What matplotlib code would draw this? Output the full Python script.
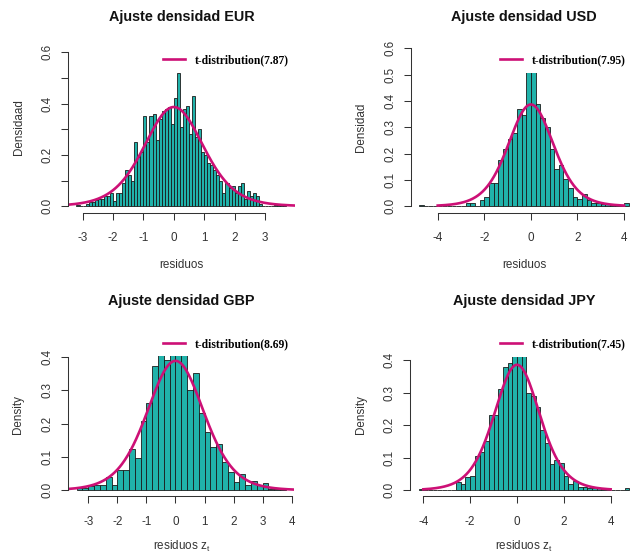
import math
import numpy as np
import matplotlib
matplotlib.use("Agg")
import matplotlib.pyplot as plt
from matplotlib.lines import Line2D
from matplotlib.patches import Rectangle

plt.rcParams["font.family"] = ["Liberation Sans", "DejaVu Sans"]
plt.rcParams["mathtext.default"] = "regular"

W, H = 631, 553

# histogram densities: first break, bin width, density of each bin
eur_start, eur_width = -3.2, 0.1
eur_density = [0.005, 0.0, 0.0, 0.01, 0.015, 0.015, 0.025, 0.03, 0.03, 0.04,
               0.04, 0.05, 0.02, 0.05, 0.05, 0.09, 0.14, 0.12, 0.10, 0.25,
               0.19, 0.21, 0.35, 0.25, 0.35, 0.36, 0.26, 0.34, 0.37, 0.38,
               0.385, 0.32, 0.42, 0.52, 0.31, 0.38, 0.39, 0.28, 0.43, 0.27,
               0.30, 0.21, 0.20, 0.17, 0.16, 0.14, 0.12, 0.10, 0.05, 0.09,
               0.07, 0.08, 0.05, 0.08, 0.09, 0.03, 0.06, 0.04, 0.05, 0.04,
               0.01, 0.0, 0.0, 0.0, 0.0, 0.005, 0.005, 0.005, 0.01]

usd_start, usd_width = -4.8, 0.2
usd_density = [0.003, 0.0, 0.0, 0.002, 0.0, 0.0, 0.0, 0.0, 0.0, 0.0,
               0.011, 0.011, 0.0, 0.024, 0.034, 0.087, 0.09, 0.174, 0.216, 0.257,
               0.277, 0.369, 0.346, 0.57, 0.55, 0.39, 0.337, 0.303, 0.216, 0.14,
               0.156, 0.105, 0.071, 0.034, 0.026, 0.045, 0.023, 0.014, 0.011, 0.01,
               0.01, 0.005, 0.004, 0.002, 0.011]

gbp_start, gbp_width = -3.4, 0.2
gbp_density = [0.006, 0.006, 0.013, 0.017, 0.017, 0.041, 0.017, 0.062, 0.062, 0.123,
               0.098, 0.207, 0.262, 0.372, 0.41, 0.39, 0.43, 0.44, 0.41, 0.30,
               0.352, 0.23, 0.175, 0.13, 0.14, 0.086, 0.056, 0.024, 0.05, 0.015,
               0.029, 0.015, 0.022, 0.005, 0.005, 0.005]

jpy_start, jpy_width = -4.2, 0.2
jpy_density = [0.005, 0.0, 0.0, 0.0, 0.0, 0.0, 0.0, 0.0, 0.026, 0.02,
               0.042, 0.044, 0.106, 0.119, 0.15, 0.23, 0.23, 0.31, 0.38, 0.39,
               0.43, 0.44, 0.43, 0.298, 0.29, 0.256, 0.186, 0.145, 0.082, 0.092,
               0.083, 0.045, 0.018, 0.028, 0.01, 0.01, 0.008, 0.008, 0.008, 0.003,
               0.0, 0.0, 0.0, 0.0, 0.008]

# fitted degrees of freedom of the t-distribution
eur_df, usd_df, gbp_df, jpy_df = 7.87, 7.95, 8.69, 7.45


def t_pdf(x, v):
    c = math.gamma((v + 1) / 2) / (math.sqrt(v * math.pi) * math.gamma(v / 2))
    return c * (1 + x ** 2 / v) ** (-(v + 1) / 2)


fill = "#20B2AA"
pink = "#CD1076"
axcol = "#333333"

panels = [
    dict(title="Ajuste densidad EUR", ylab="Densidaad", xlab="residuos",
         start=eur_start, width=eur_width, dens=eur_density, df=eur_df,
         box=(68.1, 294.7, 42.0, 212.6), ymax=0.615,
         yticks=[0, 0.1, 0.2, 0.3, 0.4, 0.5, 0.6], ylabel_every=2,
         xticks=[-3, -2, -1, 0, 1, 2, 3], curve=None,
         leg=(163.3, 60.0), clip=72.5, title_y=17.5, xlab_y=265.0, ylab_x=19.3),
    dict(title="Ajuste densidad USD", ylab="Densidad", xlab="residuos",
         start=usd_start, width=usd_width, dens=usd_density, df=usd_df,
         box=(410.7, 637.1, 42.0, 212.6), ymax=0.6,
         yticks=[0, 0.1, 0.2, 0.3, 0.4, 0.5, 0.6], ylabel_every=1,
         xticks=[-4, -2, 0, 2, 4], curve=(-4, 4),
         leg=(500.0, 60.0), clip=72.7, title_y=17.5, xlab_y=265.0, ylab_x=360.7),
    dict(title="Ajuste densidad GBP", ylab="Density", xlab="residuos $z_t$",
         start=gbp_start, width=gbp_width, dens=gbp_density, df=gbp_df,
         box=(68.3, 294.3, 331.6, 496.4), ymax=0.457,
         yticks=[0, 0.1, 0.2, 0.3, 0.4], ylabel_every=1,
         xticks=[-3, -2, -1, 0, 1, 2, 3, 4], curve=None,
         leg=(163.3, 344.0), clip=356.0, title_y=300.5, xlab_y=546.7, ylab_x=18.3),
    dict(title="Ajuste densidad JPY", ylab="Density", xlab="residuos $z_t$",
         start=jpy_start, width=jpy_width, dens=jpy_density, df=jpy_df,
         box=(410.2, 637.8, 331.6, 496.4), ymax=0.469,
         yticks=[0, 0.1, 0.2, 0.3, 0.4], ylabel_every=1,
         xticks=[-4, -2, 0, 2, 4], curve=(-4, 4),
         leg=(500.0, 344.0), clip=356.7, title_y=300.5, xlab_y=546.7, ylab_x=360.7),
]

fig = plt.figure(figsize=(W / 100, H / 100), dpi=100)

for p in panels:
    left, right, top, bottom = p["box"]
    ax = fig.add_axes([left / W, 1 - bottom / H, (right - left) / W, (bottom - top) / H])
    ax.patch.set_alpha(0)

    n = len(p["dens"])
    lefts = p["start"] + p["width"] * np.arange(n)
    b0, b1 = p["start"], p["start"] + p["width"] * n
    pad = 0.04 * (b1 - b0)
    ax.set_xlim(b0 - pad, b1 + pad)
    ax.set_ylim(-0.04 * p["ymax"], 1.04 * p["ymax"])

    ax.bar(lefts, p["dens"], width=p["width"], align="edge", color=fill,
           edgecolor="#1a1a1a", linewidth=0.6, zorder=1)

    if p["curve"] is None:
        xs = np.linspace(b0 - pad, b1 + pad, 400)
    else:
        xs = np.linspace(p["curve"][0], p["curve"][1], 400)
    ax.plot(xs, t_pdf(xs, p["df"]), color=pink, lw=1.9, zorder=2)

    # white legend background reaching down to the clip line
    lx, ly = p["leg"]
    bx = (lx - 8 - left) / (right - left)
    by = (bottom - p["clip"]) / (bottom - top)
    ax.add_patch(Rectangle((bx, by), 1.0 - bx, 1.0 - by, transform=ax.transAxes,
                           facecolor="white", edgecolor="none", zorder=3,
                           clip_on=False))
    handle = Line2D([], [], color=pink, lw=1.9)
    leg = ax.legend([handle], ["t-distribution(%.2f)" % p["df"]],
                    loc="center left", bbox_to_anchor=(lx / W, 1 - ly / H),
                    bbox_transform=fig.transFigure, frameon=False,
                    borderpad=0, borderaxespad=0, handlelength=1.9,
                    handletextpad=0.85,
                    prop=dict(family="Liberation Serif", weight="bold", size=8.3))
    leg.set_zorder(4)

    for s in ["top", "right"]:
        ax.spines[s].set_visible(False)
    for s in ["left", "bottom"]:
        ax.spines[s].set_color(axcol)
        ax.spines[s].set_linewidth(0.75)
    ax.spines["left"].set_bounds(0, p["yticks"][-1])
    ax.spines["bottom"].set_bounds(p["xticks"][0], p["xticks"][-1])

    ax.set_xticks(p["xticks"])
    ax.set_xticklabels([str(t) for t in p["xticks"]])
    ax.set_yticks(p["yticks"])
    ax.set_yticklabels(["%.1f" % t if i % p["ylabel_every"] == 0 else ""
                        for i, t in enumerate(p["yticks"])])
    ax.tick_params(axis="both", length=4.8, width=0.75, color=axcol,
                   labelcolor=axcol, labelsize=8.4)
    ax.tick_params(axis="x", pad=9.5)
    ax.tick_params(axis="y", pad=5.5, labelrotation=90)
    for lab in ax.get_yticklabels():
        lab.set_verticalalignment("center")

    cx = (left + right) / 2
    fig.text(cx / W, 1 - p["title_y"] / H, p["title"], ha="center", va="center",
             fontsize=10.4, fontweight="bold", color="#111111")
    fig.text(cx / W, 1 - p["xlab_y"] / H, p["xlab"], ha="center", va="center",
             fontsize=8.4, color=axcol)
    fig.text(p["ylab_x"] / W, 1 - ((top + bottom) / 2) / H, p["ylab"],
             ha="center", va="center", rotation=90, fontsize=8.4, color=axcol)

fig.savefig("out.png", dpi=100)
